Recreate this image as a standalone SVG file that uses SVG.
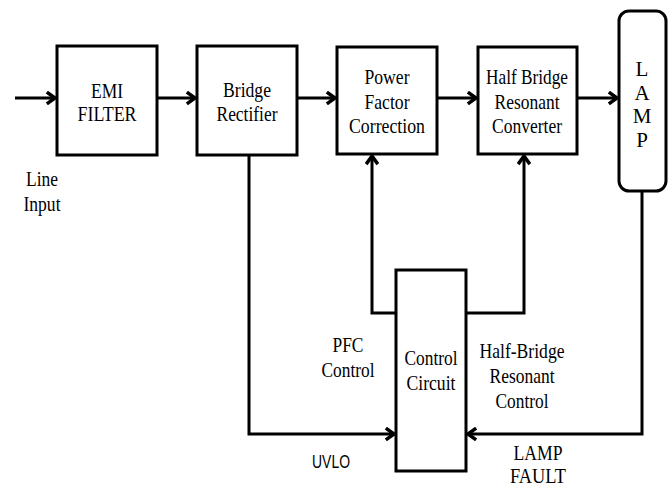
<svg xmlns="http://www.w3.org/2000/svg" width="671" height="487" viewBox="0 0 671 487">
<style>
.box{fill:#fff;stroke:#000;stroke-width:3}
.ln{fill:none;stroke:#000;stroke-width:3;stroke-linejoin:miter}
</style>
<defs>
<marker id="ah" markerUnits="userSpaceOnUse" markerWidth="14" markerHeight="14" refX="9" refY="6" orient="auto" viewBox="0 0 12 12">
<path d="M2,1 L9,6 L2,11" fill="none" stroke="#000" stroke-width="3"/>
</marker>
</defs>
<g id="connectors">
<line class="ln" x1="15" y1="98" x2="55" y2="98" marker-end="url(#ah)"/>
<line class="ln" x1="157" y1="98" x2="195" y2="98" marker-end="url(#ah)"/>
<line class="ln" x1="297" y1="98" x2="335" y2="98" marker-end="url(#ah)"/>
<line class="ln" x1="437" y1="98" x2="476" y2="98" marker-end="url(#ah)"/>
<line class="ln" x1="577" y1="98" x2="617" y2="98" marker-end="url(#ah)"/>
<polyline class="ln" points="396,313 372,313 372,156" marker-end="url(#ah)"/>
<polyline class="ln" points="466,313 524,313 524,156" marker-end="url(#ah)"/>
<polyline class="ln" points="249,155 249,434 394,434" marker-end="url(#ah)"/>
<polyline class="ln" points="642,191 642,434 468,434" marker-end="url(#ah)"/>
</g>
<g font-family="Liberation Serif" font-size="21" text-anchor="middle" fill="#000">
<g id="emi">
<rect class="box" x="57" y="46" width="100" height="109"/>
<text x="107" y="98" textLength="32" lengthAdjust="spacingAndGlyphs">EMI</text>
<text x="107" y="121" textLength="59" lengthAdjust="spacingAndGlyphs">FILTER</text>
</g>
<g id="bridge">
<rect class="box" x="197" y="46" width="100" height="109"/>
<text x="247" y="97" textLength="48" lengthAdjust="spacingAndGlyphs">Bridge</text>
<text x="247" y="121" textLength="61" lengthAdjust="spacingAndGlyphs">Rectifier</text>
</g>
<g id="pfc">
<rect class="box" x="337" y="47" width="100" height="107"/>
<text x="387" y="84" textLength="45" lengthAdjust="spacingAndGlyphs">Power</text>
<text x="387" y="109" textLength="45" lengthAdjust="spacingAndGlyphs">Factor</text>
<text x="387" y="133" textLength="76" lengthAdjust="spacingAndGlyphs">Correction</text>
</g>
<g id="halfbridge">
<rect class="box" x="478" y="47" width="99" height="107"/>
<text x="527" y="84" textLength="82" lengthAdjust="spacingAndGlyphs">Half Bridge</text>
<text x="527" y="109" textLength="65" lengthAdjust="spacingAndGlyphs">Resonant</text>
<text x="527" y="133" textLength="70" lengthAdjust="spacingAndGlyphs">Converter</text>
</g>
<g id="lamp">
<rect class="box" x="619" y="11" width="47" height="180" rx="10" ry="10"/>
<text x="642" y="76">L</text>
<text x="642" y="100">A</text>
<text x="642" y="123">M</text>
<text x="642" y="147">P</text>
</g>
<g id="control">
<rect class="box" x="396" y="270" width="70" height="201"/>
<text x="431" y="365" textLength="53" lengthAdjust="spacingAndGlyphs">Control</text>
<text x="431" y="390" textLength="49" lengthAdjust="spacingAndGlyphs">Circuit</text>
</g>
<g id="labels">
<text x="42" y="186" textLength="32" lengthAdjust="spacingAndGlyphs">Line</text>
<text x="42" y="211" textLength="37" lengthAdjust="spacingAndGlyphs">Input</text>
<text x="348" y="352" textLength="31" lengthAdjust="spacingAndGlyphs">PFC</text>
<text x="348" y="377" textLength="53" lengthAdjust="spacingAndGlyphs">Control</text>
<text x="522" y="358" textLength="85" lengthAdjust="spacingAndGlyphs">Half-Bridge</text>
<text x="522" y="383" textLength="65" lengthAdjust="spacingAndGlyphs">Resonant</text>
<text x="522" y="408" textLength="53" lengthAdjust="spacingAndGlyphs">Control</text>
<text x="538" y="460" textLength="49" lengthAdjust="spacingAndGlyphs">LAMP</text>
<text x="538" y="483" textLength="56" lengthAdjust="spacingAndGlyphs">FAULT</text>
<text x="331" y="468" font-family="Liberation Sans" font-size="19" textLength="38" lengthAdjust="spacingAndGlyphs">UVLO</text>
</g>
</g>
</svg>
